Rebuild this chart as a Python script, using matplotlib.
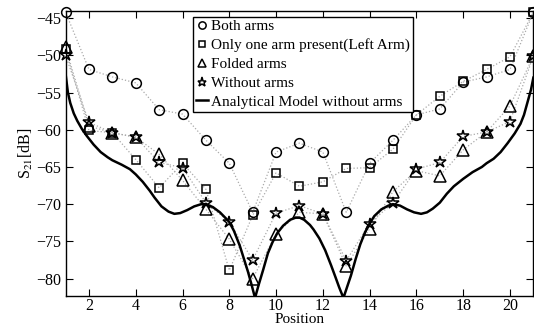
import numpy as np
import matplotlib
matplotlib.use('Agg')
import matplotlib.pyplot as plt

plt.rcParams['font.family'] = ['Liberation Serif', 'DejaVu Serif']
plt.rcParams['mathtext.fontset'] = 'stix'

# measured data
position = list(range(1, 22))
both_arms = [-44.2, -51.9, -52.9, -53.7, -57.3, -57.9, -61.4, -64.5, -71.1, -63.0, -61.8,
             -63.0, -71.1, -64.5, -61.4, -58.0, -57.2, -53.6, -52.9, -51.9, -44.2]
one_arm = [-49.2, -60.1, -60.4, -64.0, -67.8, -64.5, -68.0, -78.9, -71.5, -65.8, -67.6,
           -67.0, -65.2, -65.1, -62.6, -58.0, -55.5, -53.5, -51.9, -50.2, -44.2]
folded = [-48.9, -59.5, -60.4, -61.0, -63.3, -66.8, -70.7, -74.7, -80.0, -74.0, -71.1,
          -71.3, -78.3, -73.3, -68.3, -65.5, -66.2, -62.7, -60.3, -56.8, -50.1]
without = [-50.0, -59.0, -60.4, -61.0, -64.4, -65.1, -69.8, -72.4, -77.5, -71.2, -70.2,
           -71.3, -77.6, -72.6, -69.8, -65.3, -64.4, -60.9, -60.3, -58.9, -50.1]

# analytical model
model_x = [1.0, 1.1, 1.2, 1.35, 1.5, 1.7, 1.9, 2.2, 2.5, 2.8, 3.0, 3.4, 3.75, 4.0, 4.3,
           4.6, 4.8, 5.1, 5.4, 5.65, 5.9, 6.2, 6.5, 6.8, 7.0, 7.3, 7.6, 7.85, 8.0, 8.2,
           8.45, 8.65, 8.8, 8.95, 9.1, 9.25, 9.45, 9.65, 9.85, 10.05, 10.3, 10.6, 10.85,
           11.0, 11.2, 11.45, 11.6, 11.85, 12.1, 12.35, 12.55, 12.7, 12.88, 13.05, 13.2,
           13.4, 13.6, 13.8, 14.0, 14.2, 14.5, 14.8, 15.0, 15.3, 15.6, 15.9, 16.2, 16.45,
           16.7, 17.0, 17.3, 17.6, 18.0, 18.4, 18.8, 19.0, 19.3, 19.6, 19.9, 20.2, 20.45,
           20.6, 20.75, 20.9, 21.0]
model_y = [-52.5, -55.0, -56.4, -57.8, -58.8, -59.9, -60.8, -62.0, -63.0, -63.7, -64.1,
           -64.7, -65.3, -66.0, -67.0, -68.2, -69.1, -70.3, -71.0, -71.3, -71.2, -70.8,
           -70.3, -70.0, -70.0, -70.4, -71.1, -71.9, -72.4, -73.6, -75.6, -77.6, -79.1,
           -80.8, -82.6, -80.9, -78.8, -76.6, -75.1, -73.9, -72.9, -72.1, -71.8, -71.8,
           -72.1, -72.8, -73.4, -74.6, -76.2, -78.2, -79.9, -81.2, -82.6, -81.0, -79.6,
           -77.4, -75.4, -73.8, -72.6, -71.6, -70.7, -70.2, -70.0, -70.2, -70.7, -71.1,
           -71.3, -71.1, -70.6, -69.8, -68.6, -67.6, -66.6, -65.7, -65.0, -64.5, -63.9,
           -63.0, -61.8, -60.5, -59.2, -58.0, -56.3, -54.6, -53.0]

fig = plt.figure(figsize=(5.34, 3.30), dpi=100)
ax = fig.add_axes([0.1228, 0.104, 0.876, 0.8636])

series = [(both_arms, 'o', 'Both arms', 7),
          (one_arm, 's', 'Only one arm present(Left Arm)', 6),
          (folded, '^', 'Folded arms', 8),
          (without, '*', 'Without arms', 9)]
for vals, m, lab, ms in series:
    ax.plot(position, vals, ':', color='#aaaaaa', lw=0.9, zorder=2)
    ax.plot(position, vals, m, mfc='none', mec='k', mew=1.1, ms=ms, label=lab,
            clip_on=False, zorder=3)
ax.plot(model_x, model_y, 'k-', lw=1.8, label='Analytical Model without arms', zorder=4)

ax.set_xlim(1, 21)
ax.set_ylim(-82.3, -44)
ax.set_xticks(range(2, 21, 2))
ax.set_yticks(range(-80, -44, 5))
ax.tick_params(direction='in', top=True, right=True, length=5, labelsize=11.5, pad=3)
ax.tick_params(axis='x', pad=2)
for s in ax.spines.values():
    s.set_linewidth(1.0)
ax.set_xlabel('Position', fontsize=11, labelpad=-1)
ax.set_ylabel(r'S$_{21}$[dB]', fontsize=11.5, labelpad=1)

leg = ax.legend(loc='upper left', bbox_to_anchor=(0.272, 0.979), borderaxespad=0,
                fontsize=11, handlelength=0.8, handletextpad=0.2, labelspacing=0.33,
                borderpad=0.2, markerscale=0.75, fancybox=False, framealpha=1,
                edgecolor='k')
leg.get_frame().set_linewidth(1.0)

fig.savefig('out.png', dpi=100)
